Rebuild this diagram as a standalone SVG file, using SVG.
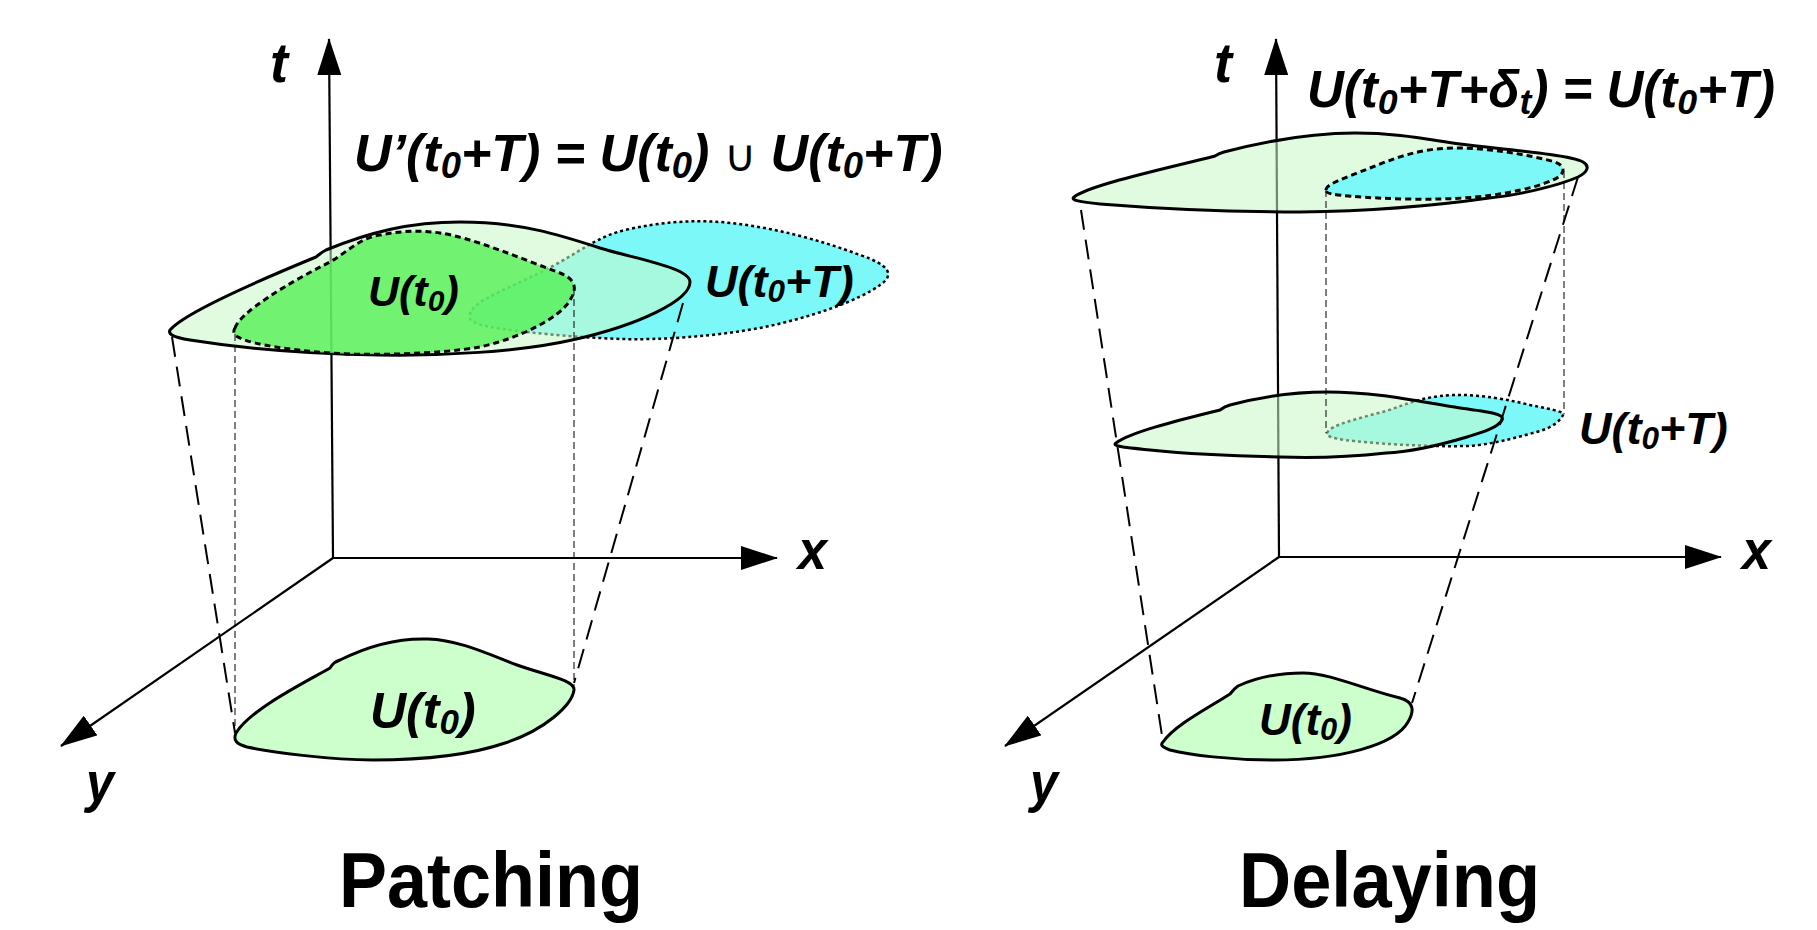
<svg xmlns="http://www.w3.org/2000/svg" width="1817" height="930" viewBox="0 0 1817 930">
<style>
.lbl{font-family:"Liberation Sans",Arial,sans-serif;font-weight:bold;font-style:italic;fill:#000}
.title{font-family:"Liberation Sans",Arial,sans-serif;font-weight:bold;font-size:78px;fill:#000}
.sub{font-size:0.7em}
.cup{font-family:"DejaVu Sans",sans-serif;font-weight:normal;font-style:normal;font-size:0.85em}
.axis{stroke:#000;stroke-width:2.2;fill:none}
.solid{stroke:#000;stroke-width:3;stroke-linejoin:round}
.dash{stroke:#000;stroke-width:3;stroke-dasharray:6 4}
.dot{stroke:#000;stroke-width:2.5;stroke-dasharray:3 3}
.lgreen{fill:#c8f8c8;fill-opacity:0.55}
.green{fill:#55f055;fill-opacity:0.8}
.cyan{fill:#7cf8f8}
.pale{fill:#ccffcc}
.long{stroke:#000;stroke-width:2;stroke-dasharray:20 10;fill:none}
.thin{stroke:#000;stroke-width:1;stroke-dasharray:7 4;fill:none}
</style>
<defs>
<marker id="arr" viewBox="0 0 37 24" refX="36" refY="12" markerWidth="37" markerHeight="24" markerUnits="userSpaceOnUse" orient="auto">
<path d="M0,0 L37,12 L0,24 Z" fill="#000"/>
</marker>
</defs>
<rect width="1817" height="930" fill="#fff"/>

<!-- ===== Left: Patching ===== -->
<g id="patching-axes">
<line class="axis" x1="333" y1="558" x2="329" y2="39" marker-end="url(#arr)"/>
<line class="axis" x1="333" y1="558" x2="777" y2="558" marker-end="url(#arr)"/>
<line class="axis" x1="333" y1="558" x2="61" y2="746" marker-end="url(#arr)"/>
<text class="lbl" x="270" y="82" font-size="56" textLength="18" lengthAdjust="spacingAndGlyphs">t</text>
<text class="lbl" x="798" y="569" font-size="56" textLength="29" lengthAdjust="spacingAndGlyphs">x</text>
<text class="lbl" x="86" y="801" font-size="56" textLength="28" lengthAdjust="spacingAndGlyphs">y</text>
</g>

<g id="patching-u0-bottom">
<path class="pale solid" d="M236,733 C250,710 300,685 330,668 C333,663 335,662 340,660 C370,645 400,638 428,639 C460,640 490,655 517,665 C545,675 575,680 574,690 C572,705 545,730 505,743 C470,755 420,760 373,760 C330,760 270,752 247,747 C236,744 233,740 236,733 Z"/>
<text class="lbl" x="370" y="728" font-size="50">U(t<tspan class="sub" dy="6">0</tspan><tspan dy="-6">)</tspan></text>
</g>

<g id="patching-u0T">
<path class="cyan dot" d="M470,315 C470,300 520,285 560,262 C585,248 600,236 625,230 C660,222 690,220 720,222 C770,226 820,240 860,255 C890,265 895,275 880,285 C860,300 810,318 760,328 C710,337 660,340 620,339 C570,337 520,332 490,327 C472,323 468,320 470,315 Z"/>
<text class="lbl" x="705" y="297" font-size="45">U(t<tspan class="sub" dy="5">0</tspan><tspan dy="-5">+T)</tspan></text>
</g>

<g id="patching-union">
<path class="lgreen solid" d="M170,330 C185,312 260,280 316,257 C320,254 322,252 326,250 C370,232 410,222 460,222 C520,222 560,235 600,248 C640,260 690,268 690,282 C690,300 640,325 572,340 C520,352 440,356 380,355 C300,354 240,348 190,340 C172,337 168,334 170,330 Z"/>
</g>

<g id="patching-u0-top">
<path class="green dash" d="M235,328 C240,312 290,282 330,262 C350,250 360,238 380,235 C400,231 420,230 440,233 C470,237 520,258 560,273 C575,279 578,288 570,300 C560,318 520,338 480,347 C440,354 370,356 330,353 C290,350 255,345 240,338 C233,335 233,331 235,328 Z"/>
<text class="lbl" x="368" y="306" font-size="43">U(t<tspan class="sub" dy="5">0</tspan><tspan dy="-5">)</tspan></text>
</g>

<g id="patching-formula">
<text class="lbl" x="354" y="171" font-size="52">U’(t<tspan class="sub" dy="7">0</tspan><tspan dy="-7">+T) = U(t</tspan><tspan class="sub" dy="7">0</tspan><tspan dy="-7">) </tspan><tspan class="cup">∪</tspan> U(t<tspan class="sub" dy="7">0</tspan><tspan dy="-7">+T)</tspan></text>
</g>

<g id="patching-connectors">
<line class="long" x1="172" y1="337" x2="235" y2="733"/>
<line class="long" x1="683" y1="303" x2="574" y2="683"/>
<line class="thin" x1="235" y1="334" x2="235" y2="733"/>
<line class="thin" x1="574" y1="288" x2="574" y2="686"/>
</g>

<text class="title" x="339" y="907" textLength="304" lengthAdjust="spacingAndGlyphs">Patching</text>

<!-- ===== Right: Delaying ===== -->
<g id="delaying-axes">
<line class="axis" x1="1279" y1="557" x2="1276" y2="39" marker-end="url(#arr)"/>
<line class="axis" x1="1279" y1="557" x2="1721" y2="557" marker-end="url(#arr)"/>
<line class="axis" x1="1279" y1="557" x2="1005" y2="746" marker-end="url(#arr)"/>
<text class="lbl" x="1214" y="82" font-size="56" textLength="18" lengthAdjust="spacingAndGlyphs">t</text>
<text class="lbl" x="1742" y="569" font-size="56" textLength="29" lengthAdjust="spacingAndGlyphs">x</text>
<text class="lbl" x="1030" y="801" font-size="56" textLength="28" lengthAdjust="spacingAndGlyphs">y</text>
</g>

<g id="delaying-u0-bottom">
<path class="pale solid" d="M1163,742 C1175,725 1205,710 1230,694 C1233,690 1235,688 1238,686 C1260,676 1280,673 1303,673 C1330,673 1360,688 1400,698 C1415,702 1414,712 1408,722 C1395,745 1340,760 1274,760 C1230,760 1190,755 1170,750 C1162,747 1160,745 1163,742 Z"/>
<text class="lbl" x="1259" y="735" font-size="44">U(t<tspan class="sub" dy="5">0</tspan><tspan dy="-5">)</tspan></text>
</g>

<g id="delaying-middle">
<path class="cyan dot" d="M1327,433 C1330,425 1360,418 1386,411 C1405,405 1420,397 1451,395 C1480,394 1510,400 1530,405 C1555,410 1565,412 1563,415 C1560,422 1550,428 1540,431 C1515,438 1490,445 1467,446 C1420,447 1370,443 1345,440 C1332,438 1326,436 1327,433 Z"/>
<path class="lgreen solid" d="M1116,443 C1130,432 1180,420 1220,410 C1224,407 1226,406 1230,405 C1260,397 1295,392 1327,392 C1380,392 1420,402 1460,408 C1490,412 1505,414 1502,420 C1498,428 1480,433 1467,437 C1440,445 1410,452 1386,453 C1350,457 1310,458 1280,457 C1230,456 1190,454 1150,450 C1120,447 1112,446 1116,443 Z"/>
<text class="lbl" x="1579" y="444" font-size="45">U(t<tspan class="sub" dy="5">0</tspan><tspan dy="-5">+T)</tspan></text>
</g>

<g id="delaying-top">
<path class="lgreen solid" d="M1074,197 C1090,185 1160,170 1215,156 C1218,154 1220,153 1224,152 C1270,140 1310,133 1355,133 C1400,133 1430,140 1460,144 C1510,150 1570,155 1583,162 C1590,166 1588,172 1578,177 C1560,185 1520,195 1489,198 C1440,205 1380,211 1300,212 C1220,212 1150,208 1100,204 C1080,202 1070,200 1074,197 Z"/>
<path class="cyan dash" d="M1326,190 C1326,184 1345,178 1370,168 C1395,158 1420,148 1455,148 C1490,148 1530,155 1555,162 C1566,166 1566,174 1553,180 C1530,190 1490,198 1440,199 C1400,200 1350,197 1332,194 C1327,193 1326,192 1326,190 Z"/>
</g>

<g id="delaying-formula">
<text class="lbl" x="1307" y="107" font-size="51">U(t<tspan class="sub" dy="7">0</tspan><tspan dy="-7">+T+δ</tspan><tspan class="sub" dy="7">t</tspan><tspan dy="-7">) = U(t</tspan><tspan class="sub" dy="7">0</tspan><tspan dy="-7">+T)</tspan></text>
</g>

<g id="delaying-connectors">
<line class="long" x1="1081" y1="210" x2="1163" y2="742"/>
<line class="long" x1="1578" y1="177" x2="1412" y2="703"/>
<line class="thin" x1="1326" y1="190" x2="1326" y2="433"/>
<line class="thin" x1="1564" y1="171" x2="1564" y2="414"/>
</g>

<text class="title" x="1239" y="907" textLength="301" lengthAdjust="spacingAndGlyphs">Delaying</text>
</svg>
